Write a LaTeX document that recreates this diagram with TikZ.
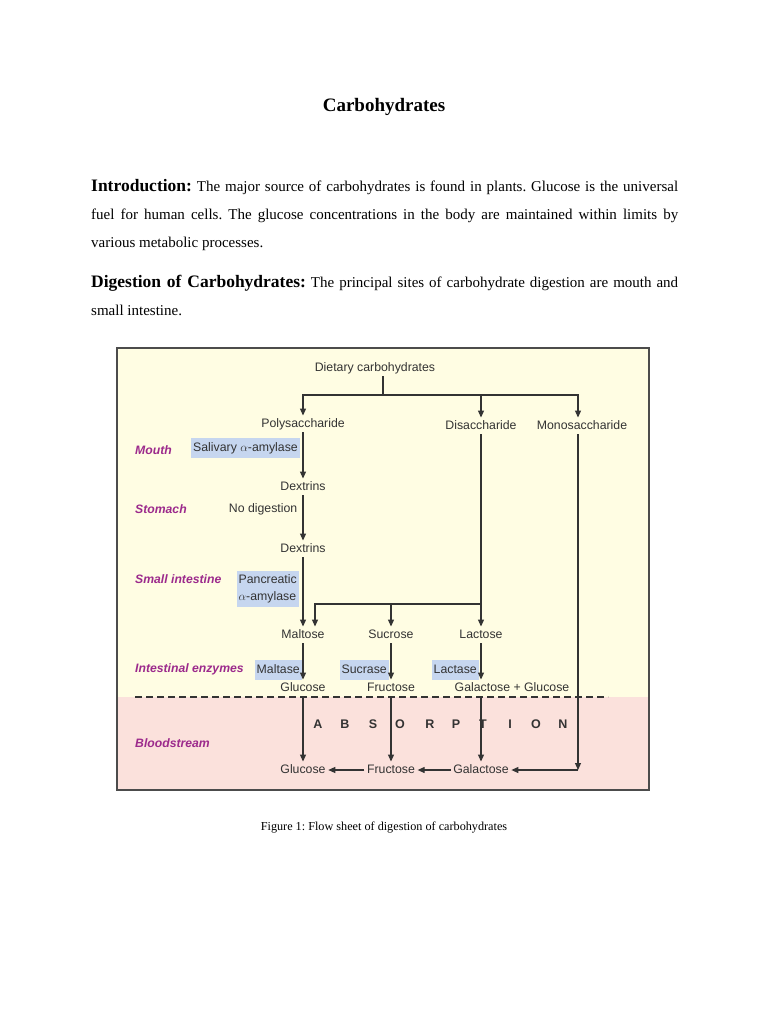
\documentclass[tikz,border=0pt]{standalone}
\usepackage{fontspec}
\setmainfont{Liberation Serif}
\newfontfamily\arial{Liberation Sans}
\usetikzlibrary{arrows.meta}

\definecolor{panel}{HTML}{FFFDE3}
\definecolor{blood}{HTML}{FBE1DC}
\definecolor{enzfill}{HTML}{C6D6EF}
\definecolor{sitecol}{HTML}{9C2A8C}
\definecolor{ink}{HTML}{333333}

\begin{document}
\frenchspacing
\begin{tikzpicture}[x=1pt, y=-1pt,
  every node/.style={inner sep=0pt},
  txt/.style={font=\arial\fontsize{12.3}{14.5}\selectfont, text=ink, inner sep=2.5pt, text height=9pt, text depth=2.5pt},
  site/.style={font=\arial\bfseries\itshape\fontsize{12.2}{14.5}\selectfont, text=sitecol, anchor=west},
  enz/.style={txt, fill=enzfill, inner xsep=2pt, inner ysep=4pt},
  arr/.style={-{Triangle[length=7pt,width=6pt]}, line width=1.1pt, draw=ink},
  ln/.style={line width=1.1pt, draw=ink}]
  \useasboundingbox[fill=white] (0,0) rectangle (768,1024);

  % page text
  \node[font=\bfseries\fontsize{19}{22}\selectfont, anchor=base] (title) at (384,112) {Carbohydrates};
  \node[anchor=base west, text width=587pt, align=justify, font=\fontsize{15}{28}\selectfont] (intro) at (91,192)
    {{\bfseries\fontsize{17.5}{28}\selectfont Introduction:} The major source of carbohydrates is found in plants. Glucose is the universal\linebreak
     fuel for human cells. The glucose concentrations in the body are maintained within limits by\linebreak
     various metabolic processes.};
  \node[anchor=base west, text width=587pt, align=justify, font=\fontsize{15}{28}\selectfont] (digest) at (91,287)
    {{\bfseries\fontsize{17.5}{28}\selectfont Digestion of Carbohydrates:} The principal sites of carbohydrate digestion are mouth and\linebreak
     small intestine.};

  % figure panel
  \fill[panel] (117,348) rectangle (649,697);
  \fill[blood] (117,697) rectangle (649,790);
  \draw[line width=1.2pt, draw=black!70] (117,348) rectangle (649,790);
  \draw[line width=1.2pt, draw=ink, dash pattern=on 7pt off 4pt] (135,697) -- (608,697);

  % sites
  \node[site] (mouth) at (135,450) {Mouth};
  \node[site] (stomach) at (135,509) {Stomach};
  \node[site] (smallint) at (135,579) {Small intestine};
  \node[site] (intenz) at (135,669) {Intestinal enzymes};
  \node[site] (blood) at (135,743) {Bloodstream};

  % compounds
  \node[txt] (diet) at (375,368) {Dietary carbohydrates};
  \node[txt] (poly) at (303,424) {Polysaccharide};
  \node[txt] (disac) at (481,426) {Disaccharide};
  \node[txt] (mono) at (582,426) {Monosaccharide};
  \node[txt] (dex1) at (303,487) {Dextrins};
  \node[txt] (dex2) at (303,549) {Dextrins};
  \node[txt] (malt) at (303,635) {Maltose};
  \node[txt] (sucr) at (391,635) {Sucrose};
  \node[txt] (lact) at (481,635) {Lactose};
  \node[txt] (glc) at (303,688) {Glucose};
  \node[txt] (fru) at (391,688) {Fructose};
  \node[txt] (galglc) at (512,688) {Galactose + Glucose};
  \node[txt] (bglc) at (303,770) {Glucose};
  \node[txt] (bfru) at (391,770) {Fructose};
  \node[txt] (bgal) at (481,770) {Galactose};

  % enzymes
  \node[enz, anchor=east] (saliv) at (300,448) {Salivary $\alpha$-amylase};
  \node[txt, anchor=east] (nodig) at (300,509) {No digestion};
  \node[enz, anchor=east, align=left, text height=, text depth=, font=\arial\fontsize{12.3}{17}\selectfont] (pancr) at (299,589) {Pancreatic\\$\alpha$-amylase};
  \node[enz, anchor=east] (maltase) at (302,670) {Maltase};
  \node[enz, anchor=east] (sucrase) at (389,670) {Sucrase};
  \node[enz, anchor=east] (lactase) at (479,670) {Lactase};

  \foreach \c/\x in {A/318,B/345,S/373,O/400,R/430,P/456,T/483,I/510,O/536,N/563}
    \node[txt, font=\arial\bfseries\fontsize{12.5}{14.5}\selectfont] at (\x,725) {\c};

  % connectors
  \coordinate (split) at (383,395);
  \coordinate (dsplit) at (481,604);
  \coordinate (mturn) at (578,770);
  \draw[ln] (split |- diet.south) -- (split);
  \draw[arr] (split) -| (poly.north);
  \draw[arr] (split) -| (disac.north);
  \draw[arr] (split) -| ([xshift=-4pt]mono.north);
  \draw[arr] (poly) -- (dex1);
  \draw[arr] (dex1) -- (dex2);
  \draw[arr] (dex2) -- (malt);
  \draw[arr] (disac) -- (lact);
  \draw[arr] (dsplit) -| (sucr.north);
  \draw[arr] (dsplit) -| ([xshift=12pt]malt.north);
  \draw[arr] (malt) -- (glc);
  \draw[arr] (sucr) -- (fru);
  \draw[arr] (lact.south) -- (lact.south |- galglc.north);
  \draw[arr] (glc) -- (bglc);
  \draw[arr] (fru) -- (bfru);
  \draw[arr] (lact.south |- galglc.south) -- (bgal.north);
  \draw[arr] ([xshift=-4pt]mono.south) -- (mturn);
  \draw[arr] (mturn) -- (bgal.east);
  \draw[arr] (bgal.west) -- (bfru.east);
  \draw[arr] (bfru.west) -- (bglc.east);

  % caption
  \node[anchor=base, font=\fontsize{12.2}{14}\selectfont] (caption) at (384,830) {Figure 1: Flow sheet of digestion of carbohydrates};
\end{tikzpicture}
\end{document}
